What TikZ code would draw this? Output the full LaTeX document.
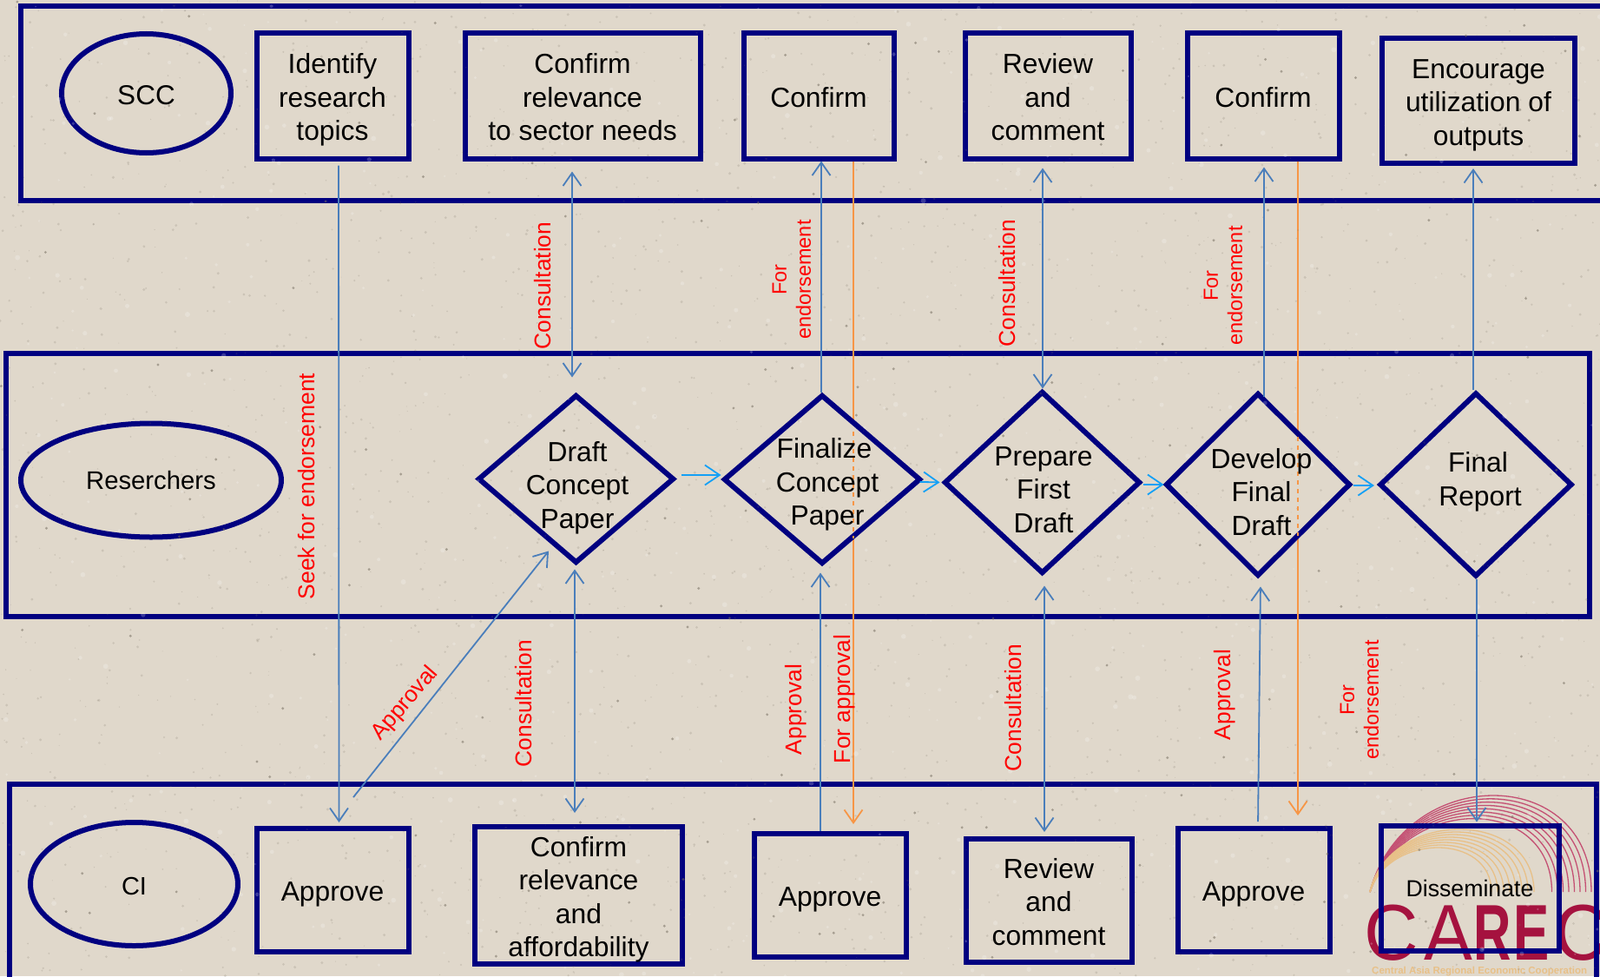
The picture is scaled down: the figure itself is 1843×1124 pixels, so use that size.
\documentclass[tikz,border=0pt]{standalone}
\usepackage{fontspec}
\setmainfont{Liberation Sans}
\usetikzlibrary{shapes.geometric, arrows.meta, positioning, calc}
\definecolor{paper}{RGB}{224, 216, 203}
\definecolor{speck}{RGB}{120, 112, 98}
\definecolor{deepnavy}{RGB}{0, 0, 128}
\definecolor{linkblue}{RGB}{74, 126, 187}
\definecolor{flowblue}{RGB}{20, 160, 245}
\definecolor{linkorange}{RGB}{247, 150, 70}
\definecolor{carecred}{RGB}{165, 18, 63}
\definecolor{arcpink}{RGB}{196, 80, 115}
\definecolor{arcsand}{RGB}{232, 192, 135}
\newcommand{\tp}{\rule{0pt}{33.6pt}}
\newcommand{\bt}{\rule[-8pt]{0pt}{8pt}}
\tikzset{
  lanebox/.style={draw=deepnavy, line width=6pt},
  procbox/.style={rectangle, draw=deepnavy, line width=6pt, align=center, inner sep=0pt, font=\fontsize{31.8}{38.5}\selectfont},
  rolenode/.style={ellipse, draw=deepnavy, line width=6pt, inner sep=0pt, font=\fontsize{#1}{36}\selectfont},
  decnode/.style={diamond, draw=deepnavy, fill=paper, line width=6pt, inner sep=0pt},
  dectext/.style={align=center, inner sep=0pt, font=\fontsize{31.8}{38.5}\selectfont},
  edgelabel/.style={text=red, rotate=90, align=center, inner sep=0pt, font=\fontsize{#1}{28}\selectfont},
  link/.style={draw=linkblue, line width=1.8pt, -{Straight Barb[length=15pt, width=21pt, line width=1.8pt]}},
  twolink/.style={link, {Straight Barb[length=15pt, width=21pt, line width=1.8pt]}-{Straight Barb[length=15pt, width=21pt, line width=1.8pt]}},
  orangelink/.style={link, draw=linkorange},
  flowlink/.style={draw=flowblue, line width=1.8pt, -{Straight Barb[length=17pt, width=23pt, line width=1.8pt]}},
  logoletter/.style={text=carecred, anchor=base west, inner sep=0pt, transform shape, font=\fontsize{91}{91}\selectfont},
}
\begin{document}
\begin{tikzpicture}[x=1pt, y=-1pt]
\useasboundingbox (0,0) rectangle (1843,1124);
\begin{scope}
\clip (0,0) rectangle (1843,1124);
\fill[paper] (0,0) rectangle (1843,1124);
\foreach \i in {0,...,7}
  \draw[arcpink, line width=1.3pt] (1578,1027) .. controls (1617,{1027-(111-3.8*\i)/0.75}) and ({1833-6.5*\i},{1027-(111-3.8*\i)/0.75}) .. ({1833-6.5*\i},1027);
\foreach \i in {0,...,7}
  \draw[arcsand, line width=1.3pt] (1578,1027) .. controls (1600,{1027-(72-3*\i)/0.75}) and ({1767-7*\i},{1027-(72-3*\i)/0.75}) .. ({1767-7*\i},1027);
\foreach \lx/\lc/\sx/\ln in {1571/C/0.95/a, 1640/A/0.92/b, 1790/C/0.95/e}
  \node[logoletter, xscale=\sx] (carec\ln) at (\lx,1105) {\lc};
\foreach \lx/\lc/\sx/\ln in {1697/R/0.66/c, 1743/E/0.68/d}
  \node[logoletter, xscale=\sx, font=\fontsize{91}{91}\selectfont\bfseries] (carec\ln) at (\lx,1105) {\lc};
\node[anchor=west, inner sep=0pt, text=arcsand, font=\fontsize{11.5}{12}\selectfont\bfseries] (carecsub) at (1580,1119) {Central Asia Regional Economic Cooperation};
\draw[lanebox] (23.5,7) rectangle (2000,230.5);
\draw[lanebox] (7,407) rectangle (1831,710);
\draw[lanebox] (11,903) rectangle (1839,1300);
\end{scope}

\node[rolenode=31.5, minimum width=195pt, minimum height=137pt] (scc) at (168.5,107.5) {\tp SCC\bt};
\node[rolenode=29.3, minimum width=300pt, minimum height=131pt] (reserchers) at (174,553) {Reserchers};
\node[rolenode=29, minimum width=239pt, minimum height=142pt] (ci) at (154.5,1018) {\tp CI\bt};

\node[procbox, minimum width=175pt, minimum height=144pt] (identify) at (383,110.5) {\tp Identify\\research\\topics\bt};
\node[procbox, minimum width=271pt, minimum height=144pt] (relevS) at (671,110.5) {\tp Confirm\\relevance\\to sector needs\bt};
\node[procbox, minimum width=173pt, minimum height=144pt] (confirmA) at (943,110.5) {\tp Confirm\bt};
\node[procbox, minimum width=191pt, minimum height=144pt] (reviewS) at (1207,110.5) {\tp Review\\and\\comment\bt};
\node[procbox, minimum width=175pt, minimum height=144pt] (confirmB) at (1455,110.5) {\tp Confirm\bt};
\node[procbox, minimum width=222pt, minimum height=144pt] (encourage) at (1703,116) {\tp Encourage\\utilization of\\outputs\bt};

\node[procbox, minimum width=175pt, minimum height=142pt] (approveA) at (383,1025) {\tp Approve\bt};
\node[procbox, minimum width=239pt, minimum height=158pt] (relevC) at (666.5,1031) {\tp Confirm\\relevance\\and\\affordability\bt};
\node[procbox, minimum width=175pt, minimum height=142pt] (approveB) at (956,1031) {\tp Approve\bt};
\node[procbox, minimum width=191pt, minimum height=142pt] (reviewC) at (1208,1037) {\tp Review\\and\\comment\bt};
\node[procbox, minimum width=175pt, minimum height=142pt] (approveC) at (1444,1025) {\tp Approve\bt};
\node[procbox, minimum width=205pt, minimum height=144pt, font=\fontsize{26.7}{34}\selectfont] (dissem) at (1693,1022.5) {Disseminate};

\draw[orangelink, shorten >=8pt] ([xshift=40pt]confirmA.south) -- ([xshift=27pt]approveB.north);
\draw[orangelink, shorten >=12pt] ([xshift=40pt]confirmB.south) -- ([xshift=51pt]approveC.north);

\node[decnode, minimum width=226pt, minimum height=194pt] (draftP) at (663.5,551.5) {};
\node[decnode, minimum width=227pt, minimum height=195pt] (finalP) at (947,552) {};
\node[decnode, minimum width=226pt, minimum height=210pt] (prepareD) at (1200.5,555.5) {};
\node[decnode, minimum width=213pt, minimum height=211pt] (developD) at (1449,558) {};
\node[decnode, minimum width=222pt, minimum height=212pt] (finalR) at (1700,558) {};

\foreach \i in {1,...,2600}
  \fill[speck, opacity=0.2] ({rnd*1843},{rnd*1124}) circle ({0.5+rnd*1.2});
\foreach \i in {1,...,600}
  \fill[white, opacity=0.22] ({rnd*1843},{rnd*1124}) circle ({1+rnd*2});
\foreach \i in {1,...,160}
  \fill[speck, opacity=0.55] ({rnd*1843},{rnd*1124}) circle (1.6);

\draw[linkorange, line width=1.8pt, dash pattern=on 5pt off 5pt] ([xshift=36pt, yshift=55pt]finalP.center) -- ([xshift=36pt, yshift=-68pt]finalP.center);
\draw[linkorange, line width=1.8pt, dash pattern=on 5pt off 5pt] ([xshift=46pt, yshift=55pt]developD.center) -- ([xshift=46pt, yshift=-59pt]developD.center);

\node[dectext] (draftT) at (665,561.5) {Draft\\Concept\\Paper};
\node[dectext] (finalT) at (953,558) {Finalize\hspace*{7pt}\\Concept\\Paper};
\node[dectext] (prepareT) at (1202,564) {Prepare\\First\\Draft};
\node[dectext] (developT) at (1453,566.5) {Develop\\Final\hspace*{7pt}\\Draft};
\node[dectext] (reportT) at (1705,555) {Final\hspace*{5pt}\\Report};

\draw[link, shorten <=5pt, shorten >=4pt] ([xshift=7pt]identify.south) -- ([xshift=7.5pt]approveA.north);
\draw[twolink, shorten <=12pt, shorten >=17pt] ([xshift=-12pt]relevS.south) -- ([xshift=-4.5pt]draftP.north);
\draw[twolink, shorten <=4pt, shorten >=13pt] ([xshift=-1.5pt]draftP.south) -- ([xshift=-4.5pt]relevC.north);
\draw[link] ([xshift=24pt, yshift=33pt]approveA.north) -- ([xshift=-31.5pt, yshift=17pt]draftP.south);
\draw[link] ([xshift=-1pt]finalP.north) -- ([xshift=3pt]confirmA.south);
\draw[link, shorten >=7pt] ([xshift=-11pt]approveB.north) -- ([xshift=-2pt]finalP.south);
\draw[twolink, shorten <=8pt] ([xshift=-6pt]reviewS.south) -- ([xshift=0.5pt]prepareD.north);
\draw[twolink, shorten <=11pt, shorten >=5pt] ([xshift=2.5pt]prepareD.south) -- ([xshift=-5pt]reviewC.north);
\draw[link, shorten >=7pt] ([xshift=7pt, yshift=-7pt]developD.north) -- ([xshift=1pt]confirmB.south);
\draw[link, shorten <=5pt, shorten >=9pt] ([xshift=5pt]approveC.north) -- ([xshift=3pt]developD.south);
\draw[link, shorten >=3pt] ([xshift=-3pt]finalR.north) -- ([xshift=-6pt]encourage.south);
\draw[link, shorten >=1pt] ([xshift=1pt]finalR.south) -- ([xshift=8pt]dissem.north);

\draw[flowlink, shorten <=5pt] ([yshift=4.5pt]draftP.east) -- ([yshift=5pt]finalP.west);
\draw[flowlink, shorten <=-4pt, shorten >=2pt] ([yshift=-3pt]finalP.east) -- (prepareD.west);
\draw[flowlink, shorten >=-1pt] ([yshift=-2.5pt]prepareD.east) -- (developD.west);
\draw[flowlink, shorten >=3pt] ([yshift=-1pt]developD.east) -- ([yshift=-1pt]finalR.west);

\node[edgelabel=26.5] (seekL) at (353,560) {Seek for endorsement};
\node[edgelabel=26.4] (consultA) at (625,329) {Consultation};
\node[edgelabel=23.5] (endorseA) at (912,322) {For\\endorsement};
\node[edgelabel=26.4] (consultB) at (1160,326) {Consultation};
\node[edgelabel=23.5] (endorseB) at (1409,329) {For\\endorsement};
\node[edgelabel=26, rotate=-41] (approvalA) at (467,810) {Approval};
\node[edgelabel=26.4] (consultC) at (603,810) {Consultation};
\node[edgelabel=26.4] (approvalB) at (917,817) {Approval};
\node[edgelabel=26.4] (forapp) at (973,805) {For approval};
\node[edgelabel=26.4] (consultD) at (1167,815) {Consultation};
\node[edgelabel=26.4] (approvalC) at (1411,800) {Approval};
\node[edgelabel=23.5] (endorseC) at (1566,806) {For\\endorsement};
\end{tikzpicture}
\end{document}
